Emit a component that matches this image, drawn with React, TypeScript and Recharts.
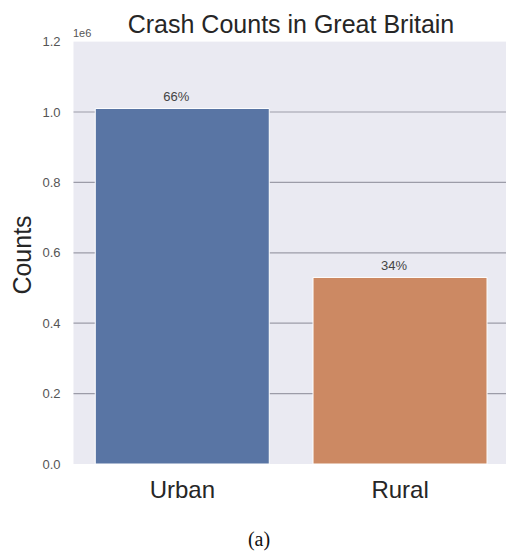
import React from 'react';
import { BarChart, Bar, XAxis, YAxis, CartesianGrid, Cell, LabelList } from 'recharts';

// Crash counts by area type
const categories = ['Urban', 'Rural'];
const counts = [1010000, 530000];
const barColors = ['#5975a4', '#cc8963'];
const yTicks = [0, 200000, 400000, 600000, 800000, 1000000, 1200000];
const gridValues = [200000, 400000, 600000, 800000, 1000000];

const total = counts.reduce((a, b) => a + b, 0);
const data = categories.map((name, i) => ({ name, count: counts[i] }));

const FONT = '"Liberation Sans", Arial, Helvetica, sans-serif';

const PercentLabel = (props: any) => {
  const { x, y, width, value } = props;
  const pct = Math.round((value / total) * 100);
  return (
    <text
      x={x + width / 2 - 6}
      y={y - 7}
      textAnchor="middle"
      fontSize={13}
      fontFamily={FONT}
      fill="#444"
    >
      {`${pct}%`}
    </text>
  );
};

export default function App() {
  return (
    <div
      style={{
        position: 'absolute',
        left: 0,
        top: 0,
        width: 506,
        height: 552,
        overflow: 'hidden',
        background: '#fff',
      }}
    >
      <BarChart
        width={520}
        height={552}
        data={data}
        margin={{ top: 41.6, right: 11, left: 13.5, bottom: 0 }}
        barCategoryGap="10%"
      >
        <CartesianGrid
          vertical={false}
          horizontalValues={gridValues}
          fill="#eaeaf2"
          stroke="#9c9ca8"
          strokeWidth={1.2}
        />
        <XAxis
          dataKey="name"
          axisLine={false}
          tickLine={false}
          tickSize={0}
          tickMargin={17}
          height={88}
          tick={{ fontSize: 24, fontFamily: FONT, fill: '#262626' }}
        />
        <YAxis
          domain={[0, 1200000]}
          ticks={yTicks}
          width={60}
          axisLine={false}
          tickLine={false}
          tickSize={10}
          tickMargin={3}
          interval={0}
          tickFormatter={(v: number) => (v / 1e6).toFixed(1)}
          tick={{ fontSize: 13, fontFamily: FONT, fill: '#555' }}
        />
        <Bar dataKey="count" isAnimationActive={false} stroke="#ffffff" strokeWidth={1}>
          {data.map((d, i) => (
            <Cell key={d.name} fill={barColors[i]} />
          ))}
          <LabelList dataKey="count" content={PercentLabel} />
        </Bar>
      </BarChart>
      <svg
        width={506}
        height={552}
        style={{ position: 'absolute', left: 0, top: 0, pointerEvents: 'none' }}
      >
        <text x={291} y={33} textAnchor="middle" fontSize={25} fontFamily={FONT} fill="#262626">
          Crash Counts in Great Britain
        </text>
        <text x={73} y={37} fontSize={11} fontFamily={FONT} fill="#555">
          1e6
        </text>
        <text
          x={0}
          y={0}
          transform="translate(31,255) rotate(-90)"
          textAnchor="middle"
          fontSize={25}
          fontFamily={FONT}
          fill="#262626"
        >
          Counts
        </text>
        <text
          x={259}
          y={546}
          textAnchor="middle"
          fontSize={20}
          fontFamily='"Liberation Serif", "Times New Roman", serif'
          fill="#111"
        >
          (a)
        </text>
      </svg>
    </div>
  );
}
